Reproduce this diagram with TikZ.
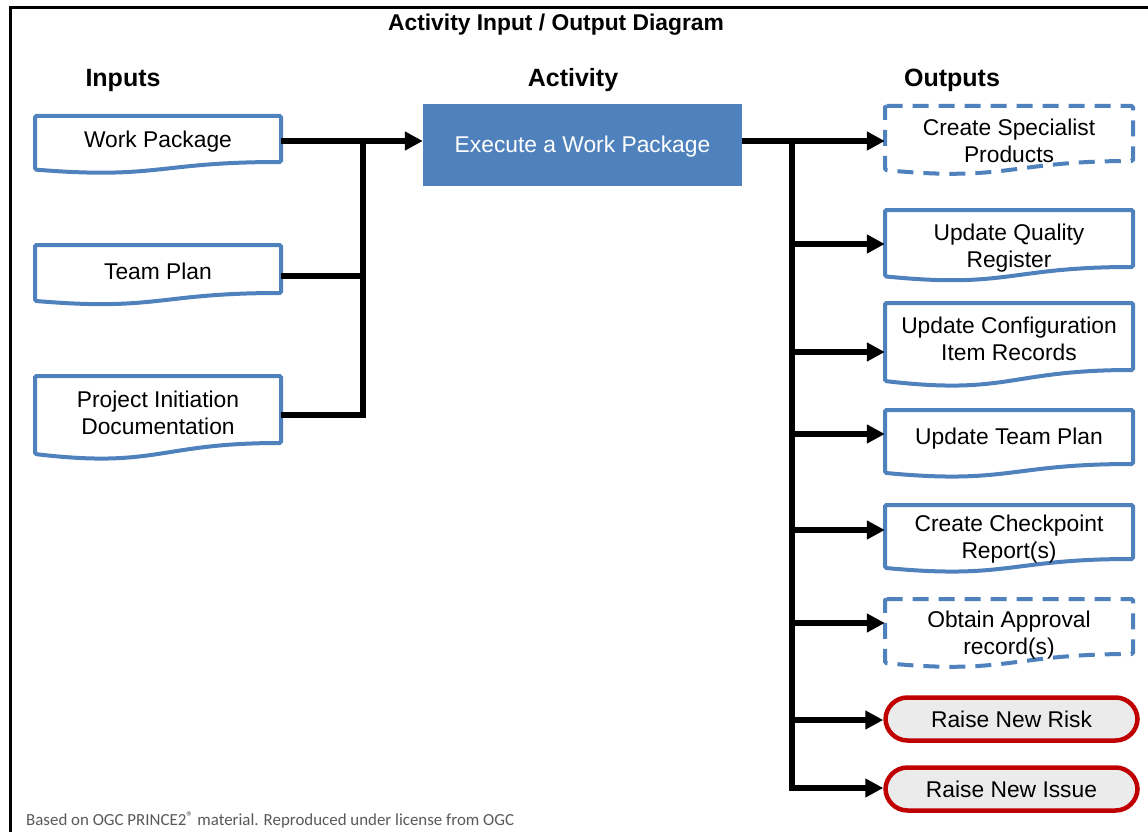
\documentclass[tikz,border=0pt]{standalone}
\usepackage{fontspec}
\setmainfont{Liberation Sans}
\newfontfamily\calibri{Carlito}
\usetikzlibrary{arrows.meta}
\definecolor{docblue}{HTML}{4F81BD}
\definecolor{riskred}{HTML}{C00000}
\definecolor{riskfill}{HTML}{EBEBEB}
\definecolor{notegray}{HTML}{595959}
\tikzset{
  conn/.style={line width=5.5pt, draw=black},
  arr/.style={conn, -{Triangle[length=18pt,width=18pt]}},
  docline/.style={draw=docblue, line width=4pt, rounded corners=1.5pt, fill=white},
  docdash/.style={docline, dash pattern=on 16pt off 10pt},
  bodytext/.style={font=\fontsize{22.8}{27.5}\selectfont, align=center, text=black},
  textnode/.style={bodytext, inner sep=0pt},
  header/.style={font=\bfseries\fontsize{25}{28}\selectfont, inner sep=0pt},
  titletext/.style={font=\bfseries\fontsize{22.8}{26}\selectfont, inner sep=0pt},
  notetext/.style={font=\calibri\fontsize{16.9}{19}\selectfont, text=notegray, inner sep=0pt},
  execbox/.style={fill=docblue, draw=none, minimum width=319pt, minimum height=82pt, inner sep=0pt},
  exectext/.style={font=\fontsize{22.8}{27.5}\selectfont, text=white, inner sep=0pt},
  riskbox/.style={draw=riskred, fill=riskfill, line width=4.5pt, rounded corners=22pt,
    minimum width=252pt, minimum height=43pt, textnode},
}
% #1 name, #2 L, #3 T, #4 R, #5 right-bottom, #6 style, #7 text centre y, #8 text
\newcommand\docbox[8]{%
  \pgfmathsetmacro\dbh{(#5-#3)/0.802}%
  \pgfmathsetmacro\dbm{(#2+#4)/2}%
  \pgfmathsetmacro\dbw{#4-#2}%
  \pgfmathsetmacro\dbhh{2*(#7-#3)}%
  \draw[#6] (#2,#3) -- (#4,#3) -- (#4,#5) .. controls (\dbm,#5) and (\dbm,{#3+1.1075*\dbh}) .. (#2,{#3+0.934*\dbh}) -- cycle;
  \node[textnode, minimum width=\dbw pt, minimum height=\dbhh pt] (#1) at (\dbm,#7) {#8};
}
\begin{document}
\begin{tikzpicture}[x=1pt,y=-1pt]
\useasboundingbox (0,0) rectangle (1148,832);
\fill[white] (0,0) rectangle (1148,832);
% frame
\draw[line width=3pt] (10,832) -- (10,8) -- (1148,8);

% titles
\node[titletext] (ttl) at (556,25) {Activity Input / Output Diagram};
\node[header] (hin) at (123,80) {Inputs};
\node[header] (hact) at (573,80) {Activity};
\node[header] (hout) at (952,80) {Outputs};

% inputs
\docbox{wp}{35}{116}{281}{162}{docline}{142}{Work Package}
\docbox{tp}{35}{245}{281}{293}{docline}{271}{Team Plan}
\docbox{pid}{35}{376}{281}{443}{docline}{413}{Project Initiation\\Documentation}

% activity
\node[execbox] (ex) at (582.5,145) {};
\node[exectext] (ext) at (582.5,147) {Execute a Work Package};

% outputs
\docbox{cs}{885}{106}{1133}{161}{docdash}{141}{Create Specialist\\Products}
\docbox{qr}{885}{210}{1133}{267}{docline}{248}{Update Quality\\Register}
\docbox{ci}{885}{303}{1133}{370}{docline}{339}{Update Configuration\\Item Records}
\docbox{utp}{885}{410}{1133}{464}{docline}{439}{Update Team Plan}
\docbox{cr}{885}{505}{1133}{559}{docline}{539}{Create Checkpoint\\Report(s)}
\docbox{oa}{885}{599}{1133}{654}{docdash}{635}{Obtain Approval\\record(s)}
\node[riskbox] (rr) at (1011.5,719) {Raise New Risk};
\node[riskbox] (ri) at (1011.5,789) {Raise New Issue};

% input connectors
\coordinate (jin1) at (363,141);
\coordinate (jin2) at (363,276);
\coordinate (jin3) at (363,415);
\draw[conn] (pid.east |- jin3) -- (jin3) -- ([yshift=2.75pt]jin1);
\draw[conn] (tp.east |- jin2) -- (jin2);
\draw[arr] (wp.east |- jin1) -- (jin1 -| ex.west);

% output connectors
\coordinate (t1) at (792,141);
\coordinate (t2) at (792,244);
\coordinate (t3) at (792,352);
\coordinate (t4) at (792,434);
\coordinate (t5) at (792,530);
\coordinate (t6) at (792,623);
\coordinate (t7) at (792,720);
\coordinate (t8) at (792,788);
\draw[conn] (t1) -- ([yshift=-2.75pt]t8);
\draw[arr] (ex.east |- t1) -- (t1 -| cs.west);
\draw[arr] (t2) -- (t2 -| qr.west);
\draw[arr] (t3) -- (t3 -| ci.west);
\draw[arr] (t4) -- (t4 -| utp.west);
\draw[arr] (t5) -- (t5 -| cr.west);
\draw[arr] (t6) -- (t6 -| oa.west);
\draw[arr] (t7) -- (t7 -| rr.west);
\draw[arr] (t8) -- (t8 -| ri.west);

% note
\node[notetext, anchor=base west] (note) at (26,825) {Based on OGC PRINCE2{\fontsize{14}{14}\selectfont\raisebox{4pt}{®}} material. Reproduced under license from OGC};
\end{tikzpicture}
\end{document}
